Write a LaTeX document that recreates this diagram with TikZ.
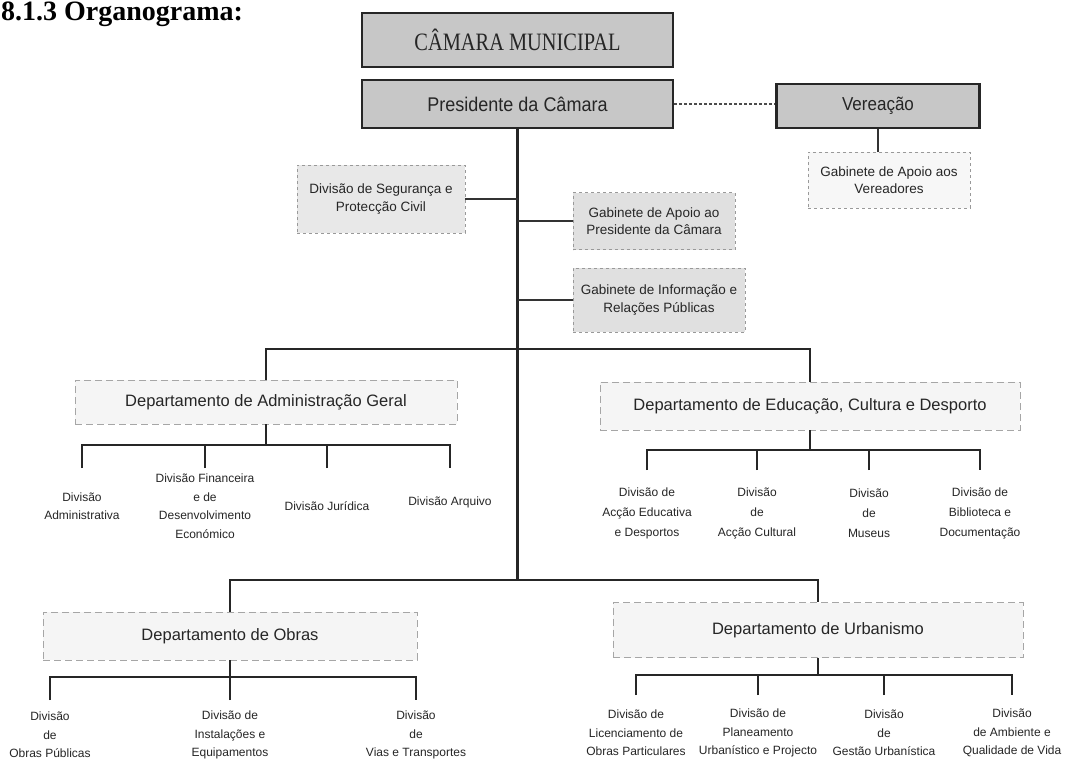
\documentclass[tikz,border=0pt]{standalone}
\usepackage{graphicx}
\usepackage{fontspec}
\setmainfont{Liberation Sans}
\newfontfamily\serifttl{Liberation Serif}
\begin{document}
\begin{tikzpicture}[x=1pt,y=-1pt,
  txt/.style={text=black!85},
  topbox/.style={draw=black!85, line width=2.4pt, fill=black!22, inner sep=0pt, txt},
  gabbox/.style={draw=black!40, dashed, line width=0.7pt, fill=black!9, inner sep=2pt, align=center, txt, font=\fontsize{13.5}{17.5}\selectfont},
  deptbox/.style={draw=black!35, dash pattern=on 7pt off 4pt, line width=0.8pt, fill=black!4, inner sep=0pt, txt, font=\fontsize{16.5}{19}\selectfont},
  lbl/.style={align=center, inner sep=0pt, anchor=north, txt, font=\fontsize{12}{18.5}\selectfont},
  conn/.style={draw=black!85, line width=2.2pt},
  thin/.style={draw=black!80, line width=1.6pt}
]
\useasboundingbox (0,0) rectangle (1065,768);
\fill[white] (0,0) rectangle (1065,768);

% title
\node[anchor=base west, inner sep=0pt, font=\serifttl\bfseries\fontsize{28}{30}\selectfont] (title) at (1,21) {8.1.3 Organograma:};

% top
\node[topbox, minimum width=311pt, minimum height=54pt, font=\serifttl\fontsize{20}{22}\selectfont] (camara) at (517.5,40) {\scalebox{1.02}[1.25]{CÂMARA MUNICIPAL}};
\node[topbox, minimum width=311pt, minimum height=48pt, font=\fontsize{18}{20}\selectfont] (pres) at (517.5,104) {\scalebox{1}[1.1]{Presidente da Câmara}};
\node[topbox, minimum width=203pt, minimum height=44pt, font=\fontsize{17}{19}\selectfont] (vere) at (878,106) {\scalebox{1}[1.1]{Vereação}};
\node[gabbox, fill=black!3, minimum width=162pt, minimum height=56pt] (gabv) at (889,180) {Gabinete de Apoio aos\\Vereadores};

\draw[draw=black!70, line width=1.2pt, dash pattern=on 3pt off 2pt] (pres.east) -- (pres.east -| vere.west);
\draw[thin] (vere.south) -- (vere.south |- gabv.north);

% staff units
\node[gabbox, minimum width=168pt, minimum height=68pt] (divseg) at (381,199) {Divisão de Segurança e\\Protecção Civil};
\node[gabbox, fill=black!12, minimum width=162pt, minimum height=57pt] (gabp) at (654,221) {Gabinete de Apoio ao\\Presidente da Câmara};
\node[gabbox, fill=black!12, minimum width=172pt, minimum height=64pt] (gabi) at (659,300) {Gabinete de Informação e\\Relações Públicas};

\coordinate (bar1) at (517.5,349);
\coordinate (bar2) at (517.5,580);
\draw[conn] (pres.south) -- (bar2);
\draw[thin] (divseg.east) -- (divseg.east -| pres.south);
\draw[thin] (gabp.west) -- (gabp.west -| pres.south);
\draw[thin] (gabi.west) -- (gabi.west -| pres.south);

% departments
\node[deptbox, minimum width=382pt, minimum height=44pt] (admin) at (266,402) {Departamento de Administração Geral};
\node[deptbox, minimum width=420pt, minimum height=48pt] (educ) at (810,406) {Departamento de Educação, Cultura e Desporto};
\node[deptbox, minimum width=374pt, minimum height=48pt] (obras) at (230,636) {Departamento de Obras};
\node[deptbox, minimum width=410pt, minimum height=55pt] (urb) at (818,630) {Departamento de Urbanismo};

\draw[conn] (admin.north) |- (bar1) -| (educ.north);
\draw[conn] (obras.north) |- (bar2) -| (urb.north);

% admin divisions
\coordinate (ab) at (266,445);
\node[lbl, minimum height=76pt] (a1) at (82,468) {Divisão\\Administrativa};
\node[lbl, minimum height=76pt] (a2) at (205,468) {Divisão Financeira\\e de\\Desenvolvimento\\Económico};
\node[lbl, minimum height=76pt] (a3) at (327,468) {Divisão Jurídica};
\node[lbl, minimum height=68pt] (a4) at (450,468) {Divisão Arquivo};
\draw[conn] (admin.south) -- (ab);
\draw[conn] (a1.north) |- (ab) -| (a4.north);
\draw[conn] (a2.north) -- (a2.north |- ab);
\draw[conn] (a3.north) -- (a3.north |- ab);

% educ divisions
\coordinate (eb) at (810,450);
\node[lbl, minimum height=86pt, font=\fontsize{12}{20}\selectfont] (e1) at (647,470) {Divisão de\\Acção Educativa\\e Desportos};
\node[lbl, minimum height=86pt, font=\fontsize{12}{20}\selectfont] (e2) at (757,470) {Divisão\\de\\Acção Cultural};
\node[lbl, minimum height=86pt, font=\fontsize{12}{20}\selectfont] (e3) at (869,470) {Divisão\\de\\Museus};
\node[lbl, minimum height=86pt, font=\fontsize{12}{20}\selectfont] (e4) at (980,470) {Divisão de\\Biblioteca e\\Documentação};
\draw[conn] (educ.south) -- (eb);
\draw[conn] (e1.north) |- (eb) -| (e4.north);
\draw[conn] (e2.north) -- (e2.north |- eb);
\draw[conn] (e3.north) -- (e3.north |- eb);

% obras divisions
\coordinate (ob) at (230,677);
\node[lbl, minimum height=70pt] (o1) at (50,700) {Divisão\\de\\Obras Públicas};
\node[lbl, minimum height=70pt] (o2) at (230,700) {Divisão de\\Instalações e\\Equipamentos};
\node[lbl, minimum height=70pt] (o3) at (416,700) {Divisão\\de\\Vias e Transportes};
\draw[conn] (obras.south) -- (ob);
\draw[conn] (o1.north) |- (ob) -| (o3.north);
\draw[conn] (o2.north) -- (o2.north |- ob);

% urbanismo divisions
\coordinate (ub) at (818,675);
\node[lbl, minimum height=76pt] (u1) at (636,695) {Divisão de\\Licenciamento de\\Obras Particulares};
\node[lbl, minimum height=76pt] (u2) at (758,695) {Divisão de\\Planeamento\\Urbanístico e Projecto};
\node[lbl, minimum height=76pt] (u3) at (884,695) {Divisão\\de\\Gestão Urbanística};
\node[lbl, minimum height=76pt] (u4) at (1012,695) {Divisão\\de Ambiente e\\Qualidade de Vida};
\draw[conn] (urb.south) -- (ub);
\draw[conn] (u1.north) |- (ub) -| (u4.north);
\draw[conn] (u2.north) -- (u2.north |- ub);
\draw[conn] (u3.north) -- (u3.north |- ub);
\end{tikzpicture}
\end{document}
